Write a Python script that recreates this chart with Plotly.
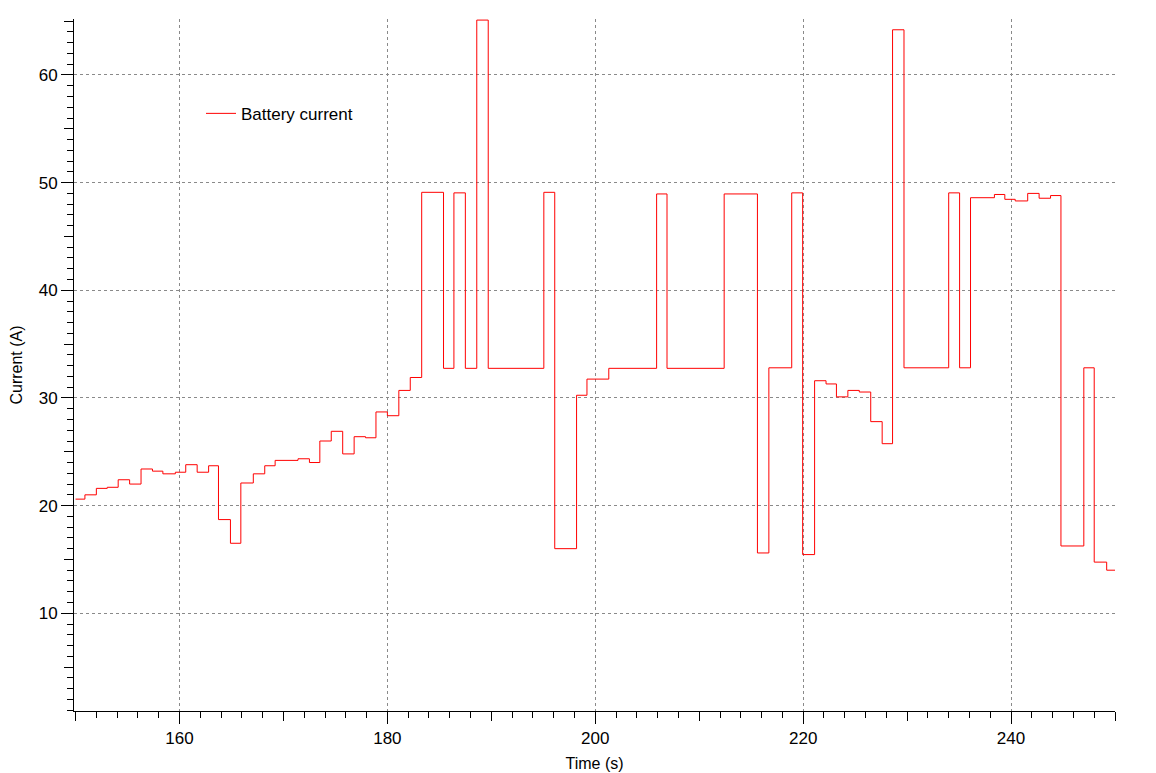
import plotly.graph_objects as go

# Step changes: time (s) at which a level begins, and that level (A)
time_s = [150.0, 150.9, 152.0, 153.05, 154.1, 155.2, 156.3, 157.4, 158.4, 159.6,
          160.6, 161.7, 162.8, 163.75, 164.9, 165.9, 167.1, 168.2, 169.2, 171.4,
          172.5, 173.5, 174.6, 175.7, 176.8, 177.9, 178.9, 180.0, 181.1, 182.2,
          183.3, 185.4, 186.4, 187.5, 188.6, 189.7, 195.05, 196.1, 198.2, 199.2,
          201.3, 205.9, 206.9, 212.4, 215.6, 216.7, 218.9, 219.95, 221.1, 222.2,
          223.2, 224.3, 225.4, 226.5, 227.6, 228.6, 229.7, 234.0, 235.05, 236.1,
          238.4, 239.4, 240.4, 241.6, 242.7, 243.8, 244.8, 247.0, 248.0, 249.2,
          250.0]
current_a = [20.6, 21.0, 21.6, 21.7, 22.4, 22.0, 23.4, 23.2, 22.95, 23.1,
             23.8, 23.1, 23.7, 18.7, 16.5, 22.1, 22.95, 23.7, 24.2, 24.35,
             24.0, 26.0, 26.9, 24.8, 26.4, 26.3, 28.7, 28.35, 30.7, 31.9,
             49.1, 32.75, 49.05, 32.75, 65.1, 32.75, 49.1, 16.0, 30.25, 31.75,
             32.75, 48.95, 32.75, 48.95, 15.6, 32.8, 49.05, 15.45, 31.6, 31.3,
             30.1, 30.7, 30.55, 27.8, 25.75, 64.2, 32.8, 49.05, 32.8, 48.6,
             48.9, 48.45, 48.3, 49.0, 48.55, 48.8, 16.25, 32.8, 14.75, 14.0,
             14.0]

series_name = "Battery current"
x_title = "Time (s)"
y_title = "Current (A)"
x_range = [149.85, 250]
y_range = [0.92, 65.2]

FONT = "Liberation Sans, Arial, Helvetica, sans-serif"

fig = go.Figure()
fig.add_trace(go.Scatter(
    x=time_s, y=current_a, mode="lines", name=series_name,
    line=dict(color="#ff0000", width=1, shape="hv"),
))
# helper trace for the medium-tick overlay axes
fig.add_trace(go.Scatter(x=[], y=[], xaxis="x2", yaxis="y2",
                         showlegend=False, hoverinfo="skip"))

fig.update_layout(
    width=1148, height=765,
    margin=dict(l=66, r=41, t=11, b=62),
    paper_bgcolor="white", plot_bgcolor="white",
    font=dict(family=FONT, color="black"),
    showlegend=True,
    legend=dict(x=0.122, y=0.889, xanchor="left", yanchor="top",
                bgcolor="rgba(0,0,0,0)", borderwidth=0,
                font=dict(size=17, color="black")),
    xaxis=dict(
        range=x_range, tick0=0, dtick=20, ticks="outside", ticklen=12,
        tickwidth=1, tickcolor="black", showline=True, linecolor="black",
        linewidth=1, zeroline=False, showgrid=True, gridcolor="#8a8a8a",
        griddash="dot", gridwidth=1, tickfont=dict(size=17, color="black"),
        minor=dict(tick0=0, dtick=2, ticks="outside", ticklen=6,
                   tickcolor="black", tickwidth=1, showgrid=False),
        title=dict(text=x_title, font=dict(size=16, color="black"), standoff=10),
        automargin=False,
    ),
    yaxis=dict(
        range=y_range, tick0=0, dtick=10, ticks="outside", ticklen=12,
        tickwidth=1, tickcolor="black", showline=True, linecolor="black",
        linewidth=1, zeroline=False, showgrid=True, gridcolor="#8a8a8a",
        griddash="dot", gridwidth=1, tickfont=dict(size=17, color="black"),
        minor=dict(tick0=0, dtick=1, ticks="outside", ticklen=6,
                   tickcolor="black", tickwidth=1, showgrid=False),
        title=dict(text=y_title, font=dict(size=16, color="black"), standoff=25),
        automargin=False,
    ),
    xaxis2=dict(
        overlaying="x", anchor="y2", side="bottom", range=x_range, tick0=0,
        dtick=10, ticks="outside", ticklen=9, tickwidth=1, tickcolor="black",
        showticklabels=False, showgrid=False, showline=False, zeroline=False,
    ),
    yaxis2=dict(
        overlaying="y", anchor="x2", side="left", range=y_range, tick0=0,
        dtick=5, ticks="outside", ticklen=9, tickwidth=1, tickcolor="black",
        showticklabels=False, showgrid=False, showline=False, zeroline=False,
    ),
)

fig.write_html("out.html")
